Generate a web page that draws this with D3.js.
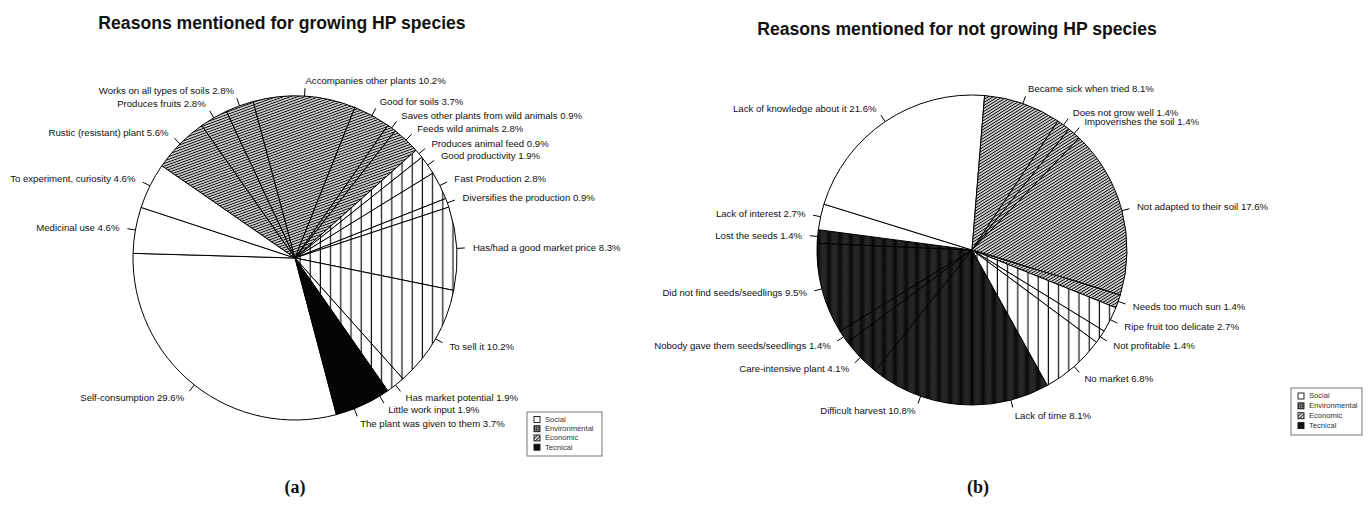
<!DOCTYPE html>
<html>
<head>
<meta charset="utf-8">
<script src="https://cdn.jsdelivr.net/npm/d3@7"></script>
<style>
  html, body { margin: 0; padding: 0; background: #fff; }
  svg { display: block; }
  text { font-family: "Liberation Sans", Arial, Helvetica, sans-serif; fill: #111; }
</style>
</head>
<body>
<svg id="fig" width="1368" height="511"></svg>
<script>
// ---- Reasons for growing HP species (clockwise order) ----
const growCategories = [
  "Self-consumption", "Medicinal use", "To experiment, curiosity",
  "Rustic (resistant) plant", "Produces fruits", "Works on all types of soils",
  "Accompanies other plants", "Good for soils", "Saves other plants from wild animals",
  "Feeds wild animals", "Produces animal feed", "Good productivity",
  "Fast Production", "Diversifies the production", "Has/had a good market price",
  "To sell it", "Has market potential", "Little work input",
  "The plant was given to them"
];
const growValues = [29.6, 4.6, 4.6, 5.6, 2.8, 2.8, 10.2, 3.7, 0.9, 2.8, 0.9, 1.9, 2.8, 0.9, 8.3, 10.2, 1.9, 1.9, 3.7];
const growGroups = [
  "Social", "Social", "Social",
  "Environmental", "Environmental", "Environmental", "Environmental", "Environmental", "Environmental", "Environmental",
  "Economic", "Economic", "Economic", "Economic", "Economic", "Economic", "Economic",
  "Tecnical", "Tecnical"
];

// ---- Reasons for not growing HP species (clockwise order) ----
const notGrowCategories = [
  "Difficult harvest", "Care-intensive plant", "Nobody gave them seeds/seedlings",
  "Did not find seeds/seedlings", "Lost the seeds", "Lack of interest",
  "Lack of knowledge about it", "Became sick when tried", "Does not grow well",
  "Impoverishes the soil", "Not adapted to their soil", "Needs too much sun",
  "Ripe fruit too delicate", "Not profitable", "No market", "Lack of time"
];
const notGrowValues = [10.8, 4.1, 1.4, 9.5, 1.4, 2.7, 21.6, 8.1, 1.4, 1.4, 17.6, 1.4, 2.7, 1.4, 6.8, 8.1];
const notGrowGroups = [
  "Tecnical", "Tecnical", "Tecnical", "Tecnical", "Tecnical",
  "Social", "Social",
  "Environmental", "Environmental", "Environmental", "Environmental", "Environmental",
  "Economic", "Economic", "Economic",
  "Tecnical"
];

const legendGroups = ["Social", "Environmental", "Economic", "Tecnical"];
const panelTitles = ["Reasons mentioned for growing HP species", "Reasons mentioned for not growing HP species"];
const panelTags = ["(a)", "(b)"];

const svg = d3.select("#fig");
const defs = svg.append("defs");

// Diagonal hatch used for environmental slices
function hatch(id, angle, gap) {
  const p = defs.append("pattern").attr("id", id)
    .attr("patternUnits", "userSpaceOnUse")
    .attr("width", 20).attr("height", gap)
    .attr("patternTransform", `rotate(${-angle})`);
  p.append("rect").attr("width", 20).attr("height", gap).attr("fill", "#fff");
  p.append("line").attr("x1", 0).attr("x2", 20).attr("y1", gap / 2).attr("y2", gap / 2)
    .attr("stroke", "#000").attr("stroke-width", 1.15);
}
hatch("envA", 20, 2.45);
hatch("envB", 32, 2.5);

// Vertical lines used for economic slices
const vl = defs.append("pattern").attr("id", "econ")
  .attr("patternUnits", "userSpaceOnUse").attr("width", 10.2).attr("height", 10);
vl.append("rect").attr("width", 10.2).attr("height", 10).attr("fill", "#fff");
vl.append("line").attr("x1", 5).attr("x2", 5).attr("y1", 0).attr("y2", 10)
  .attr("stroke", "#111").attr("stroke-width", 1.2);

// Dark banded fill for technical slices in panel (b)
const bandGrad = defs.append("linearGradient").attr("id", "bandGrad")
  .attr("x1", 0).attr("x2", 1).attr("y1", 0).attr("y2", 0);
[[0, "#080808"], [0.35, "#262626"], [0.65, "#262626"], [1, "#080808"]]
  .forEach(([o, c]) => bandGrad.append("stop").attr("offset", o).attr("stop-color", c));
const tb = defs.append("pattern").attr("id", "techB")
  .attr("patternUnits", "userSpaceOnUse").attr("width", 11).attr("height", 10);
tb.append("rect").attr("width", 11).attr("height", 10).attr("fill", "url(#bandGrad)");

// Legend key patterns
const kEnv = defs.append("pattern").attr("id", "keyEnv")
  .attr("patternUnits", "userSpaceOnUse").attr("width", 2).attr("height", 2);
kEnv.append("rect").attr("width", 2).attr("height", 2).attr("fill", "#777");
kEnv.append("rect").attr("width", 1).attr("height", 1).attr("fill", "#222");
const kEco = defs.append("pattern").attr("id", "keyEco")
  .attr("patternUnits", "userSpaceOnUse").attr("width", 2.5).attr("height", 2.5)
  .attr("patternTransform", "rotate(45)");
kEco.append("rect").attr("width", 2.5).attr("height", 2.5).attr("fill", "#fff");
kEco.append("rect").attr("width", 1.1).attr("height", 2.5).attr("fill", "#222");

const panels = [
  {
    cats: growCategories, vals: growValues, groups: growGroups,
    cx: 295, cy: 258, r: 162, start: 165.2,
    fills: ["#fff", "url(#envA)", "url(#econ)", "#050505"],
    title: panelTitles[0], titleX: 282, titleY: 29,
    tag: panelTags[0], tagX: 295, tagY: 493,
    legend: { x: 527, y: 412, w: 75, h: 44 }
  },
  {
    cats: notGrowCategories, vals: notGrowValues, groups: notGrowGroups,
    cx: 972, cy: 250, r: 155, start: 180,
    fills: ["#fff", "url(#envB)", "url(#econ)", "url(#techB)"],
    title: panelTitles[1], titleX: 957, titleY: 35,
    tag: panelTags[1], tagX: 978, tagY: 493,
    legend: { x: 1291, y: 388, w: 71, h: 47 }
  }
];

panels.forEach(P => {
  const fillScale = d3.scaleOrdinal().domain(legendGroups).range(P.fills);
  const data = P.cats.map((c, i) => ({ cat: c, val: P.vals[i], grp: P.groups[i] }));
  const a0 = P.start * Math.PI / 180;
  const pie = d3.pie().sort(null).value(d => d.val).startAngle(a0).endAngle(a0 + 2 * Math.PI);
  const arcs = pie(data);
  const arc = d3.arc().innerRadius(0).outerRadius(P.r);

  const g = svg.append("g").attr("transform", `translate(${P.cx},${P.cy})`);

  g.selectAll("path.slice").data(arcs).join("path")
    .attr("class", "slice")
    .attr("d", arc)
    .attr("fill", d => fillScale(d.data.grp))
    .attr("stroke", "#000").attr("stroke-width", 1).attr("stroke-linejoin", "round");

  const mid = d => (d.startAngle + d.endAngle) / 2;
  const px = (d, k) => Math.sin(mid(d)) * P.r * k;
  const py = (d, k) => -Math.cos(mid(d)) * P.r * k;

  g.selectAll("line.tick").data(arcs).join("line")
    .attr("class", "tick")
    .attr("x1", d => px(d, 1)).attr("y1", d => py(d, 1))
    .attr("x2", d => px(d, 1.05)).attr("y2", d => py(d, 1.05))
    .attr("stroke", "#000").attr("stroke-width", 1);

  g.selectAll("text.lab").data(arcs).join("text")
    .attr("class", "lab")
    .attr("x", d => px(d, 1.1)).attr("y", d => py(d, 1.1))
    .attr("text-anchor", d => px(d, 1) < 0 ? "end" : "start")
    .attr("dominant-baseline", "central")
    .attr("font-size", 9.6)
    .text(d => `${d.data.cat} ${d.data.val.toFixed(1)}%`);

  svg.append("text")
    .attr("x", P.titleX).attr("y", P.titleY)
    .attr("text-anchor", "middle")
    .attr("font-size", 17.6).attr("font-weight", "bold")
    .text(P.title);

  svg.append("text")
    .attr("x", P.tagX).attr("y", P.tagY)
    .attr("text-anchor", "middle")
    .style("font-family", "'Liberation Serif', 'DejaVu Serif', serif")
    .attr("font-size", 18).attr("font-weight", "bold")
    .text(P.tag);

  // legend
  const L = P.legend;
  const lg = svg.append("g").attr("transform", `translate(${L.x},${L.y})`);
  lg.append("rect").attr("width", L.w).attr("height", L.h)
    .attr("fill", "#fff").attr("stroke", "#777").attr("stroke-width", 1);
  const keyFill = d3.scaleOrdinal().domain(legendGroups)
    .range(["#fff", "url(#keyEnv)", "url(#keyEco)", "#111"]);
  const rowY = d3.scalePoint().domain(legendGroups).range([L.h * 0.17, L.h * 0.8]);
  const row = lg.selectAll("g.row").data(legendGroups).join("g")
    .attr("class", "row")
    .attr("transform", d => `translate(7,${rowY(d)})`);
  row.append("rect").attr("x", 0).attr("y", -3).attr("width", 6).attr("height", 6)
    .attr("fill", d => keyFill(d)).attr("stroke", "#111").attr("stroke-width", 0.9);
  row.append("text").attr("x", 11).attr("y", 0)
    .attr("dominant-baseline", "central").attr("font-size", 7.6)
    .style("fill", "#333")
    .text(d => d);
});
</script>
</body>
</html>
